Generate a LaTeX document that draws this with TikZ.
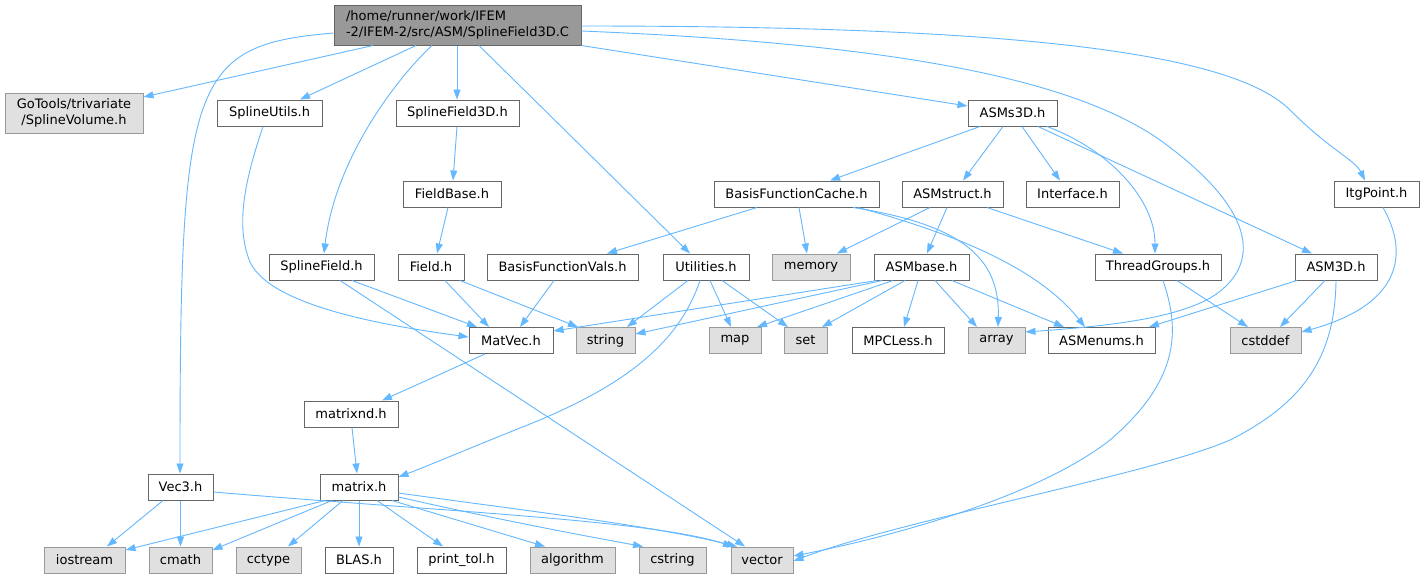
\documentclass[tikz,border=0pt]{standalone}
\usepackage{fontspec}
\setmainfont{DejaVu Sans}
\usepackage{tikz}
\usetikzlibrary{arrows.meta}

\definecolor{edgeblue}{HTML}{63B8FF}
\definecolor{nodeline}{HTML}{666666}
\definecolor{sysline}{HTML}{999999}
\definecolor{sysfill}{HTML}{E0E0E0}
\definecolor{rootfill}{HTML}{999999}

\tikzset{
  hdr/.style={draw=nodeline, fill=white, line width=1pt, minimum height=26pt,
    inner xsep=0pt, inner ysep=1pt, font=\fontsize{13}{16}\selectfont},
  sys/.style={hdr, draw=sysline, fill=sysfill},
  top/.style={hdr, fill=rootfill},
  dep/.style={draw=edgeblue, line width=0.9pt, -{Triangle[length=10pt,width=7pt]}}
}

\begin{document}
\begin{tikzpicture}[x=1pt,y=-1pt]
	%%%%% START %%%%%
	
	\path[fill=white] (0,0) rectangle (1424,579);
	\useasboundingbox (0,0) rectangle (1424,579);
	
	% files
	\node[top, minimum width=247pt, minimum height=40pt, align=left] (root) at (457.5,25) {/home/runner/work/IFEM\\-2/IFEM-2/src/ASM/SplineField3D.C};
	
	\node[sys, minimum width=138pt, minimum height=40pt, align=center] (gotools) at (74,113) {GoTools/trivariate\\/SplineVolume.h};
	\node[hdr, minimum width=105pt] (splineutils) at (269.5,113) {SplineUtils.h};
	\node[hdr, minimum width=123pt] (splinefieldthreed) at (457.5,113) {SplineField3D.h};
	\node[hdr, minimum width=89pt] (asmsthreed) at (1012.5,113) {ASMs3D.h};
	
	\node[hdr, minimum width=98pt] (fieldbase) at (452,194) {FieldBase.h};
	\node[hdr, minimum width=165pt] (bfcache) at (796.5,194) {BasisFunctionCache.h};
	\node[hdr, minimum width=101pt] (asmstruct) at (952.5,194) {ASMstruct.h};
	\node[hdr, minimum width=93pt] (interface) at (1072.5,194) {Interface.h};
	\node[hdr, minimum width=85pt] (itgpoint) at (1376.5,194) {ItgPoint.h};
	
	\node[hdr, minimum width=105pt] (splinefield) at (321.5,267) {SplineField.h};
	\node[hdr, minimum width=66pt] (field) at (431,267) {Field.h};
	\node[hdr, minimum width=151pt] (bfvals) at (562.5,267) {BasisFunctionVals.h};
	\node[hdr, minimum width=86pt] (utilities) at (706,267) {Utilities.h};
	\node[sys, minimum width=78pt] (memory) at (811,267) {memory};
	\node[hdr, minimum width=95pt] (asmbase) at (921.5,267) {ASMbase.h};
	\node[hdr, minimum width=126pt] (threadgroups) at (1158,267) {ThreadGroups.h};
	\node[hdr, minimum width=82pt] (asmthreed) at (1336,267) {ASM3D.h};
	
	\node[hdr, minimum width=84pt] (matvec) at (511,340.5) {MatVec.h};
	\node[sys, minimum width=59pt] (string) at (605.5,340.5) {string};
	\node[sys, minimum width=52pt] (map) at (735,340.5) {map};
	\node[sys, minimum width=43pt] (set) at (805.5,340.5) {set};
	\node[hdr, minimum width=92pt] (mpcless) at (898,340.5) {MPCLess.h};
	\node[sys, minimum width=57pt] (array) at (996.5,340.5) {array};
	\node[hdr, minimum width=107pt] (asmenums) at (1101.5,340.5) {ASMenums.h};
	\node[sys, minimum width=71pt] (cstddef) at (1265.5,340.5) {cstddef};
	
	\node[hdr, minimum width=94pt] (matrixnd) at (351,414) {matrixnd.h};
	
	\node[hdr, minimum width=65pt] (vecthree) at (180.5,487) {Vec3.h};
	\node[hdr, minimum width=78pt] (matrix) at (359,487) {matrix.h};
	
	\node[sys, minimum width=81pt] (iostream) at (84.5,560) {iostream};
	\node[sys, minimum width=63pt] (cmath) at (180.5,560) {cmath};
	\node[sys, minimum width=65pt] (cctype) at (268.5,560) {cctype};
	\node[hdr, minimum width=68pt] (blas) at (359,560) {BLAS.h};
	\node[hdr, minimum width=89pt] (printtol) at (461.5,560) {print\_tol.h};
	\node[sys, minimum width=85pt] (algorithm) at (572.5,560) {algorithm};
	\node[sys, minimum width=67pt] (cstring) at (672.5,560) {cstring};
	\node[sys, minimum width=62pt] (vector) at (762,560) {vector};
	
	% includes of the source file
	\draw[dep] (root.south -| 373,0) -- (gotools.east |- 0,97);
	\draw[dep] (root.south -| 416,0) -- (splineutils.north -| 300,0);
	\draw[dep] (root.south -| 457,0) -- (splinefieldthreed.north -| 457,0);
	\draw[dep] (root.west |- 0,33) .. controls (190,45) and (180,80) .. (vecthree.north -| 180,0);
	\draw[dep] (root.south -| 432,0) .. controls (395,80) and (335,160) .. (splinefield.north -| 324,0);
	\draw[dep] (root.south -| 479,0) -- (utilities.north -| 690,0);
	\draw[dep] (root.south east) -- (asmsthreed.west |- 0,106);
	\draw[dep] (root.east |- 0,31) .. controls (850,42) and (1060,70) .. (1160,140) .. controls (1250,205) and (1265,260) .. (1215,295) .. controls (1180,318) and (1110,326) .. (array.east |- 0,332);
	\draw[dep] (root.east |- 0,26) .. controls (1000,26) and (1230,50) .. (1290,110) .. controls (1330,150) and (1355,160) .. (itgpoint.north -| 1365,0);
	
	% headers
	\draw[dep] (splineutils.south -| 263,0) .. controls (245,180) and (235,225) .. (250,262) .. controls (270,305) and (380,325) .. (matvec.west |- 0,337);
	\draw[dep] (splinefieldthreed.south -| 457,0) -- (fieldbase.north -| 453,0);
	\draw[dep] (fieldbase.south -| 448,0) -- (field.north -| 437,0);
	\draw[dep] (field.south -| 445,0) -- (matvec.north -| 489,0);
	\draw[dep] (field.south -| 460,0) -- (string.north -| 578,0);
	\draw[dep] (splinefield.south -| 352,0) -- (matvec.north -| 477,0);
	\draw[dep] (splinefield.south -| 340,0) -- (vector.north -| 745,0);
	\draw[dep] (bfvals.south -| 554,0) -- (matvec.north -| 520,0);
	\draw[dep] (utilities.south -| 688,0) -- (string.north -| 627,0);
	\draw[dep] (utilities.south -| 710,0) -- (map.north -| 731,0);
	\draw[dep] (utilities.south -| 722,0) -- (set.north -| 788,0);
	\draw[dep] (utilities.south -| 700,0) .. controls (680,340) and (630,385) .. (520,428) .. controls (470,448) and (430,465) .. (matrix.east |- 0,477);
	
	\draw[dep] (asmsthreed.south -| 980,0) -- (bfcache.north -| 830,0);
	\draw[dep] (asmsthreed.south -| 1003,0) -- (asmstruct.north -| 963,0);
	\draw[dep] (asmsthreed.south -| 1022,0) -- (interface.north -| 1060,0);
	\draw[dep] (asmsthreed.south -| 1047,0) .. controls (1110,150) and (1155,200) .. (threadgroups.north -| 1155,0);
	\draw[dep] (asmsthreed.south -| 1038,0) -- (asmthreed.north -| 1312,0);
	
	\draw[dep] (bfcache.south -| 757,0) -- (bfvals.north -| 607,0);
	\draw[dep] (bfcache.south -| 799,0) -- (memory.north -| 807,0);
	\draw[dep] (bfcache.south -| 853,0) .. controls (965,225) and (1000,260) .. (array.north -| 998,0);
	\draw[dep] (bfcache.south -| 858,0) .. controls (960,235) and (1040,270) .. (asmenums.north -| 1085,0);
	
	\draw[dep] (asmstruct.south -| 930,0) -- (memory.north -| 837,0);
	\draw[dep] (asmstruct.south -| 947,0) -- (asmbase.north -| 927,0);
	\draw[dep] (asmstruct.south -| 987,0) -- (threadgroups.north -| 1123,0);
	
	\draw[dep] (asmbase.south -| 877,0) -- (matvec.east |- 0,331);
	\draw[dep] (asmbase.south -| 882,0) -- (string.east |- 0,334);
	\draw[dep] (asmbase.south -| 893,0) -- (map.north -| 757,0);
	\draw[dep] (asmbase.south -| 905,0) -- (set.north -| 822,0);
	\draw[dep] (asmbase.south -| 918,0) -- (mpcless.north -| 904,0);
	\draw[dep] (asmbase.south -| 935,0) -- (array.north -| 977,0);
	\draw[dep] (asmbase.south -| 952,0) -- (asmenums.north -| 1064,0);
	
	\draw[dep] (threadgroups.south -| 1177,0) -- (cstddef.north -| 1248,0);
	\draw[dep] (threadgroups.south -| 1163,0) .. controls (1180,330) and (1180,380) .. (1110,440) .. controls (1040,495) and (900,535) .. (vector.east |- 0,556);
	\draw[dep] (asmthreed.south -| 1297,0) -- (asmenums.north -| 1149,0);
	\draw[dep] (asmthreed.south -| 1325,0) -- (cstddef.north -| 1280,0);
	\draw[dep] (asmthreed.south -| 1336,0) .. controls (1335,350) and (1310,400) .. (1230,440) .. controls (1150,475) and (900,520) .. (vector.east |- 0,561);
	\draw[dep] (itgpoint.south -| 1383,0) .. controls (1410,255) and (1400,305) .. (cstddef.east |- 0,332);
	
	\draw[dep] (matvec.south -| 485,0) -- (matrixnd.north -| 382,0);
	\draw[dep] (matrixnd.south -| 352,0) -- (matrix.north -| 357,0);
	
	\draw[dep] (vecthree.south -| 163,0) -- (iostream.north -| 107,0);
	\draw[dep] (vecthree.south) -- (cmath.north);
	\draw[dep] (vecthree.east |- 0,492) .. controls (450,512) and (650,520) .. (vector.north -| 733,0);
	
	\draw[dep] (matrix.south -| 325,0) -- (iostream.east |- 0,550);
	\draw[dep] (matrix.south -| 332,0) -- (cmath.east |- 0,550);
	\draw[dep] (matrix.south -| 343,0) -- (cctype.north -| 288,0);
	\draw[dep] (matrix.south -| 359,0) -- (blas.north -| 359,0);
	\draw[dep] (matrix.south -| 377,0) -- (printtol.north -| 443,0);
	\draw[dep] (matrix.south -| 392,0) -- (algorithm.north -| 545,0);
	\draw[dep] (matrix.east |- 0,497) .. controls (500,520) and (580,535) .. (cstring.north -| 643,0);
	\draw[dep] (matrix.east |- 0,493) .. controls (520,510) and (650,525) .. (vector.north -| 737,0);
	
	%%%%% END %%%%%
\end{tikzpicture}
\end{document}
